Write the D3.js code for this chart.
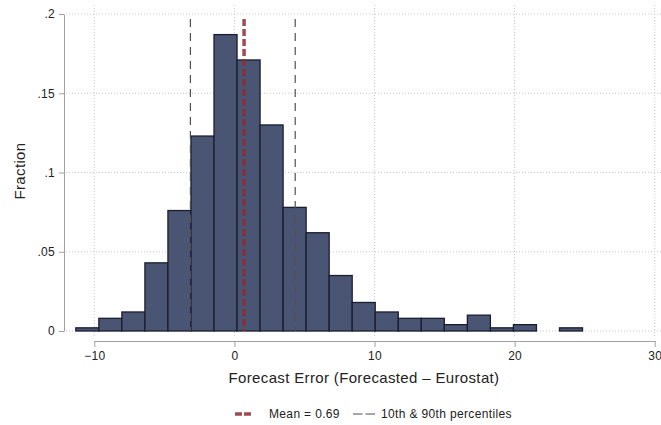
<!DOCTYPE html>
<html>
<head>
<meta charset="utf-8">
<script src="https://cdn.jsdelivr.net/npm/d3@7"></script>
<style>
  body { margin: 0; background: #fff; }
  svg { display: block; font-family: "Liberation Sans", Arial, Helvetica, sans-serif; }
</style>
</head>
<body>
<div id="chart"></div>
<script>
// histogram data: fraction per bin (bins start at binStart, width binWidth)
const binStart = -11.32;
const binWidth = 1.644;
const fractions = [0.002, 0.008, 0.012, 0.043, 0.076, 0.123, 0.187, 0.171, 0.130, 0.078,
                   0.062, 0.035, 0.018, 0.012, 0.008, 0.008, 0.004, 0.010, 0.002, 0.004,
                   0, 0.002];

// reference lines
const meanValue = 0.69;
const percentiles = [-3.14, 4.34];

// ticks
const xTicks = [-10, 0, 10, 20, 30];
const yTicks = [0, 0.05, 0.1, 0.15, 0.2];
const yTickLabels = ["0", ".05", ".1", ".15", ".2"];

const width = 661, height = 425;

const svg = d3.select('#chart').append('svg')
    .attr('width', width)
    .attr('height', height);

// scales
const x = d3.scaleLinear().domain([-10, 30]).range([94.3, 654.7]);
const y = d3.scaleLinear().domain([0, 0.2]).range([331, 14]);

// grid lines
const grid = svg.append('g');
grid.selectAll('line.h')
    .data(yTicks)
    .enter().append('line')
    .attr('x1', 66).attr('x2', 661)
    .attr('y1', d => y(d)).attr('y2', d => y(d))
    .style('stroke', '#c8c8c8')
    .style('stroke-width', 1)
    .style('stroke-dasharray', '1,2');

grid.selectAll('line.v')
    .data(xTicks)
    .enter().append('line')
    .attr('x1', d => x(d)).attr('x2', d => x(d))
    .attr('y1', 5).attr('y2', 336)
    .style('stroke', '#c8c8c8')
    .style('stroke-width', 1)
    .style('stroke-dasharray', '1,2');

// bars
const bins = fractions.map((f, i) => ({x0: binStart + i*binWidth, x1: binStart + (i+1)*binWidth, f: f}))
    .filter(d => d.f > 0);

svg.append('g').selectAll('rect')
    .data(bins)
    .enter().append('rect')
    .attr('x', d => x(d.x0))
    .attr('y', d => y(d.f))
    .attr('width', d => x(d.x1) - x(d.x0))
    .attr('height', d => y(0) - y(d.f))
    .style('fill', '#4a5574')
    .style('stroke', '#1a1f30')
    .style('stroke-width', 1.3);

// percentile lines
svg.append('g').selectAll('line')
    .data(percentiles)
    .enter().append('line')
    .attr('x1', d => x(d)).attr('x2', d => x(d))
    .attr('y1', 19).attr('y2', y(0))
    .style('stroke', '#505050')
    .style('stroke-width', 1.2)
    .style('stroke-dasharray', '8,6');

// mean line
svg.append('line')
    .attr('x1', x(meanValue)).attr('x2', x(meanValue))
    .attr('y1', 19).attr('y2', y(0))
    .style('stroke', '#8e2c35')
    .style('stroke-opacity', 0.85)
    .style('stroke-width', 3.5)
    .style('stroke-dasharray', '7,3');

// y axis
const yAxis = d3.axisLeft(y).tickValues(yTicks)
    .tickFormat((d, i) => yTickLabels[i])
    .tickSize(5).tickSizeOuter(0).tickPadding(4);
const gy = svg.append('g')
    .attr('transform', 'translate(64,0)')
    .call(yAxis);
gy.select('.domain').style('stroke', '#a0a0a0');
gy.selectAll('.tick line').style('stroke', '#a0a0a0');
gy.selectAll('.tick text')
    .style('font-size', '12px')
    .style('letter-spacing', '0.3px')
    .style('fill', '#222')
    .style('font-family', '"Liberation Sans", Arial, sans-serif');

// x axis
const xAxis = d3.axisBottom(x).tickValues(xTicks)
    .tickFormat(d => d < 0 ? '\u2212' + Math.abs(d) : d)
    .tickSize(6).tickSizeOuter(0).tickPadding(4.5);
const gx = svg.append('g')
    .attr('transform', 'translate(0,341)')
    .call(xAxis);
gx.select('.domain').style('stroke', '#a0a0a0');
gx.selectAll('.tick line').style('stroke', '#a0a0a0');
gx.selectAll('.tick text')
    .style('font-size', '12px')
    .style('letter-spacing', '0.3px')
    .style('fill', '#222')
    .style('font-family', '"Liberation Sans", Arial, sans-serif');

// axis titles
svg.append('text')
    .attr('x', 364).attr('y', 382.5)
    .attr('text-anchor', 'middle')
    .style('font-size', '15px')
    .style('letter-spacing', '0.35px')
    .style('fill', '#222')
    .text('Forecast Error (Forecasted \u2013 Eurostat)');

svg.append('text')
    .attr('transform', 'translate(25,171) rotate(-90)')
    .attr('text-anchor', 'middle')
    .style('font-size', '15px')
    .style('letter-spacing', '0.35px')
    .style('fill', '#222')
    .text('Fraction');

// legend
const leg = svg.append('g');
leg.append('line')
    .attr('x1', 235).attr('x2', 251).attr('y1', 414).attr('y2', 414)
    .style('stroke', '#8e2c35').style('stroke-opacity', 0.85)
    .style('stroke-width', 3.3).style('stroke-dasharray', '7,2');
leg.append('text')
    .attr('x', 269).attr('y', 418.3)
    .style('font-size', '12px').style('letter-spacing', '0.35px').style('fill', '#222')
    .text('Mean = 0.69');
leg.append('line')
    .attr('x1', 353).attr('x2', 375).attr('y1', 414).attr('y2', 414)
    .style('stroke', '#505050')
    .style('stroke-width', 1.2).style('stroke-dasharray', '9.5,3');
leg.append('text')
    .attr('x', 381).attr('y', 418.3)
    .style('font-size', '12px').style('letter-spacing', '0.35px').style('fill', '#222')
    .text('10th & 90th percentiles');
</script>
</body>
</html>
